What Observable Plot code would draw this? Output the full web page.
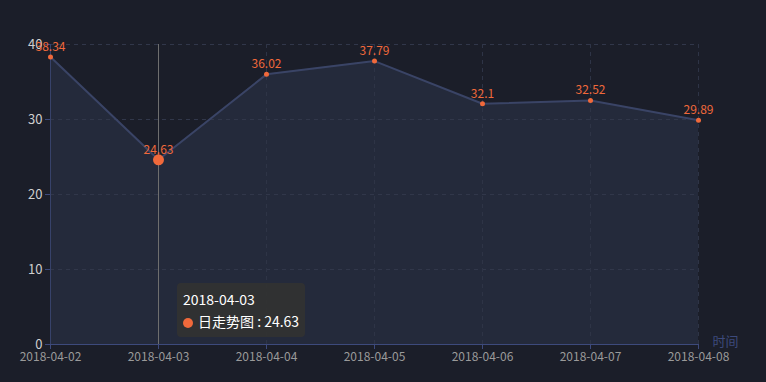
<!DOCTYPE html>
<html>
<head>
<meta charset="utf-8">
<script src="https://cdn.jsdelivr.net/npm/d3@7"></script>
<script src="https://cdn.jsdelivr.net/npm/@observablehq/plot@0.6"></script>
<style>
  html, body { margin: 0; padding: 0; background: #1b1e29; }
  #wrap { position: relative; width: 766px; height: 382px; font-family: "Noto Sans CJK SC", "Noto Sans", sans-serif; }
  #tip { position: absolute; background: rgba(50,50,50,0.92); border-radius: 4px; color: #fff; font-size: 14px; padding: 5px 6px 5px 6px; line-height: 22px; white-space: nowrap; }
  #tip .dot { display: inline-block; width: 10px; height: 10px; border-radius: 50%; background: #f0693b; margin-right: 5px; vertical-align: -1px; }
</style>
</head>
<body>
<div id="wrap"></div>
<script>
const dates = ["2018-04-02","2018-04-03","2018-04-04","2018-04-05","2018-04-06","2018-04-07","2018-04-08"];
const values = [38.34, 24.63, 36.02, 37.79, 32.1, 32.52, 29.89];
const yTicks = [0, 10, 20, 30, 40];
const gridTicks = [10, 20, 30, 40];
const seriesName = "日走势图";
const axisName = "时间";
const activeDate = "2018-04-03";

const data = dates.map((d, i) => ({date: d, value: values[i]}));
const active = data.filter(d => d.date === activeDate);

const orange = "#f0693b";
const font = "'Noto Sans CJK SC', 'Noto Sans', sans-serif";

const chart = Plot.plot({
  width: 766,
  height: 382,
  marginLeft: 50,
  marginRight: 68,
  marginTop: 44,
  marginBottom: 38,
  style: {background: "transparent", fontFamily: font, fontSize: "12px", overflow: "visible"},
  x: {type: "point", domain: dates, padding: 0, axis: null},
  y: {domain: [0, 40], axis: null},
  marks: [
    Plot.areaY(data, {x: "date", y: "value", fill: "#242a3b"}),
    Plot.ruleY(gridTicks, {stroke: "#31374a", strokeDasharray: "4,4"}),
    Plot.ruleX(dates.slice(1), {stroke: "#2e3446", strokeDasharray: "4,4"}),
    Plot.lineY(data, {x: "date", y: "value", stroke: "#3a4466", strokeWidth: 2}),
    Plot.ruleX(active, {x: "date", stroke: "#6e6e6e", strokeWidth: 1}),
    Plot.ruleX([dates[0]], {stroke: "#37426a"}),
    Plot.ruleY([0], {stroke: "#3d4a7c"}),
    Plot.axisY({ticks: yTicks, tickSize: 5, tickFormat: () => "", stroke: "#3d4a7c", color: "#3d4a7c", label: null}),
    Plot.axisY({ticks: yTicks, tickSize: 0, tickPadding: 8, color: "#cfcfcf", fontSize: 13, label: null}),
    Plot.axisX({ticks: dates, tickSize: 5, tickFormat: () => "", color: "#3d4a7c", label: null}),
    Plot.axisX({ticks: dates, tickSize: 0, tickPadding: 8, color: "#9a9a9a", label: null}),
    Plot.text([axisName], {frameAnchor: "bottom-right", dx: 40, dy: 1, text: d => d, fill: "#3d4a7c", fontSize: 13}),
    Plot.dot(data.filter(d => d.date !== activeDate), {x: "date", y: "value", r: 2.5, fill: orange}),
    Plot.dot(active, {x: "date", y: "value", r: 5.5, fill: orange}),
    Plot.text(data, {x: "date", y: "value", text: d => String(d.value), dy: -10, fill: orange, fontSize: 12})
  ]
});

const wrap = document.getElementById("wrap");
wrap.appendChild(chart);

const xs = chart.scale("x"), ys = chart.scale("y");
const a = active[0];
const tip = document.createElement("div");
tip.id = "tip";
tip.style.left = (xs.apply(a.date) + 19) + "px";
tip.style.top = (ys.apply(0) - 61) + "px";
tip.innerHTML = `<div>${a.date}</div><div><span class="dot"></span>${seriesName} : ${a.value}</div>`;
wrap.appendChild(tip);
</script>
</body>
</html>
